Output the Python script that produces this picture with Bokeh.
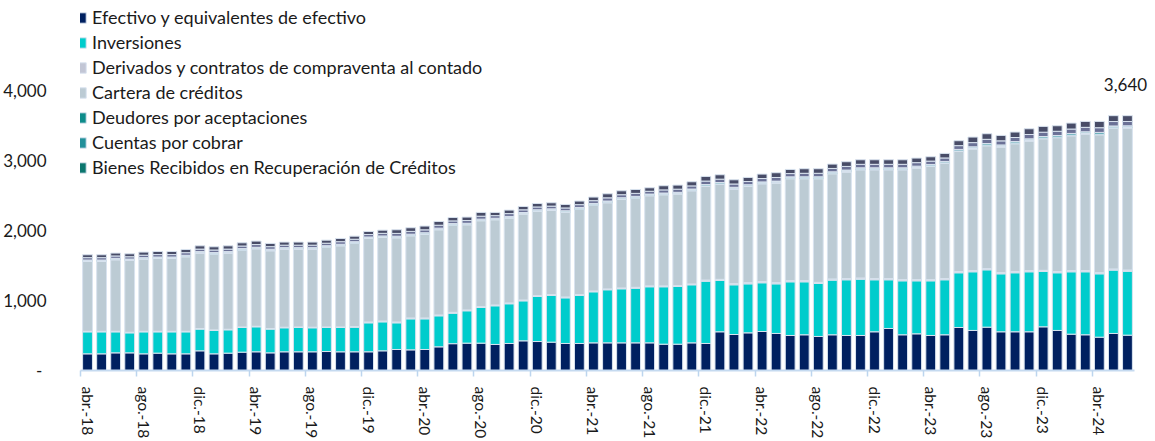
from bokeh.plotting import figure
from bokeh.models import (ColumnDataSource, Range1d, FixedTicker, Legend, LegendItem,
                          Label, NumeralTickFormatter)
from bokeh.embed import file_html
from bokeh.resources import INLINE

MESES = ["ene.", "feb.", "mar.", "abr.", "may.", "jun.", "jul.", "ago.", "sep.", "oct.", "nov.", "dic."]
N_MESES = 75
categorias = []
for k in range(N_MESES):
    mm = (3 + k) % 12
    yy = 18 + (3 + k) // 12
    categorias.append(f"{MESES[mm]}-{yy}")

efectivo = [238, 238, 252, 252, 238, 248, 238, 238, 281, 238,
            248, 262, 267, 252, 267, 267, 267, 271, 267, 267,
            267, 281, 300, 295, 300, 338, 383, 391, 391, 372,
            386, 424, 414, 405, 386, 386, 395, 395, 395, 395,
            395, 376, 376, 395, 386, 553, 514, 538, 557, 529,
            500, 510, 486, 510, 500, 500, 553, 600, 510, 524,
            500, 510, 614, 572, 619, 553, 553, 553, 624, 572,
            519, 510, 476, 529, 505]
inversiones = [314, 314, 300, 286, 314, 304, 314, 314, 310, 334,
               333, 352, 357, 339, 343, 347, 343, 343, 347, 352,
               414, 414, 381, 443, 438, 443, 436, 462, 509, 552,
               567, 571, 643, 667, 652, 686, 729, 758, 772, 781,
               801, 820, 824, 829, 890, 733, 710, 700, 696, 709,
               767, 757, 757, 781, 796, 805, 743, 696, 771, 757,
               781, 786, 782, 838, 819, 828, 843, 857, 791, 824,
               891, 900, 905, 905, 914]
derivados = [8, 8, 8, 8, 8, 8, 8, 8, 8, 8,
             8, 8, 8, 8, 8, 8, 8, 8, 8, 8,
             12, 12, 12, 12, 12, 12, 12, 12, 12, 12,
             12, 12, 12, 12, 12, 12, 12, 12, 12, 12,
             12, 12, 12, 12, 16, 16, 16, 16, 16, 16,
             16, 16, 16, 16, 16, 16, 16, 16, 16, 16,
             16, 16, 16, 16, 16, 16, 16, 16, 16, 16,
             16, 16, 16, 16, 16]
cartera = [997, 997, 1021, 1026, 1031, 1040, 1040, 1064, 1078, 1082,
           1088, 1097, 1106, 1111, 1116, 1112, 1116, 1140, 1159, 1192,
           1193, 1193, 1202, 1174, 1195, 1217, 1245, 1216, 1227, 1217,
           1212, 1227, 1203, 1202, 1208, 1221, 1226, 1231, 1264, 1274,
           1288, 1302, 1308, 1331, 1337, 1356, 1351, 1375, 1398, 1423,
           1456, 1456, 1480, 1503, 1522, 1546, 1555, 1555, 1570, 1594,
           1618, 1646, 1717, 1737, 1756, 1794, 1827, 1851, 1879, 1913,
           1927, 1951, 1970, 2010, 2028]
deudores = [6, 6, 6, 6, 6, 6, 6, 6, 6, 6,
            6, 6, 6, 6, 6, 6, 6, 6, 6, 6,
            6, 6, 6, 6, 6, 6, 6, 6, 6, 6,
            7, 7, 7, 7, 7, 7, 7, 7, 7, 7,
            7, 7, 7, 7, 7, 7, 7, 7, 7, 7,
            8, 8, 8, 8, 8, 8, 8, 8, 8, 8,
            8, 8, 8, 8, 8, 8, 8, 8, 8, 8,
            8, 8, 8, 8, 8]
cuentas = [12, 12, 12, 11, 12, 12, 12, 13, 12, 13,
           12, 13, 13, 13, 12, 12, 12, 12, 13, 12,
           12, 13, 14, 14, 14, 14, 13, 13, 14, 13,
           14, 13, 14, 13, 14, 14, 14, 15, 15, 15,
           14, 15, 15, 15, 17, 17, 16, 15, 17, 18,
           16, 17, 17, 17, 18, 17, 17, 17, 17, 17,
           17, 17, 18, 21, 21, 20, 20, 21, 21, 21,
           22, 22, 23, 22, 21]
bienes = [3, 3, 3, 3, 3, 3, 3, 3, 3, 3,
          3, 3, 3, 3, 3, 3, 3, 3, 3, 3,
          3, 3, 3, 3, 3, 3, 3, 3, 3, 3,
          3, 3, 3, 3, 3, 3, 3, 3, 3, 3,
          3, 3, 3, 3, 3, 3, 3, 3, 3, 3,
          3, 3, 3, 3, 3, 3, 3, 3, 3, 3,
          3, 3, 3, 3, 3, 3, 3, 3, 3, 3,
          3, 3, 3, 3, 3]
otros_a = [34, 34, 34, 33, 35, 35, 35, 37, 36, 37,
           36, 37, 39, 37, 35, 35, 35, 35, 37, 35,
           35, 37, 40, 40, 41, 42, 39, 39, 42, 37,
           40, 38, 40, 39, 40, 40, 40, 45, 43, 43,
           40, 45, 45, 45, 50, 48, 47, 45, 48, 52,
           47, 50, 50, 48, 52, 50, 50, 50, 50, 50,
           48, 50, 54, 60, 60, 58, 58, 62, 62, 60,
           63, 63, 67, 63, 62]
otros_b = [41, 41, 41, 42, 44, 44, 44, 46, 47, 46,
           47, 46, 49, 46, 44, 44, 44, 44, 46, 44,
           44, 46, 52, 52, 54, 54, 49, 49, 54, 46,
           50, 48, 50, 48, 50, 51, 51, 58, 56, 56,
           50, 59, 58, 59, 66, 63, 60, 59, 63, 68,
           59, 65, 65, 62, 67, 65, 65, 65, 65, 65,
           62, 65, 70, 79, 80, 78, 78, 82, 83, 79,
           85, 85, 90, 84, 83]

series = ["efectivo", "inversiones", "derivados", "cartera", "deudores",
          "cuentas", "bienes", "otros_a", "otros_b"]
nombres = ["Efectivo y equivalentes de efectivo", "Inversiones",
           "Derivados y contratos de compraventa al contado", "Cartera de créditos",
           "Deudores por aceptaciones", "Cuentas por cobrar",
           "Bienes Recibidos en Recuperación de Créditos"]
colores = ["#002060", "#00CCCC", "#C2C6D5", "#BCCBD4", "#0E8C8A",
           "#22909A", "#0B766E", "#6B7196", "#484C67"]

etiquetas_eje = ["abr.-18", "ago.-18", "dic.-18", "abr.-19", "ago.-19", "dic.-19",
                 "abr.-20", "ago.-20", "dic.-20", "abr.-21", "ago.-21", "dic.-21",
                 "abr.-22", "ago.-22", "dic.-22", "abr.-23", "ago.-23", "dic.-23", "abr.-24"]

xs = list(range(N_MESES))
source = ColumnDataSource(dict(
    x=xs, efectivo=efectivo, inversiones=inversiones, derivados=derivados,
    cartera=cartera, deudores=deudores, cuentas=cuentas, bienes=bienes,
    otros_a=otros_a, otros_b=otros_b))

FONT = "Lato"
TXT = "#1a1a1a"

# frame: x from 80 to page edge (bars occupy 80..1134), y from 0 to 371
p = figure(width=1155, height=441, output_backend="svg", toolbar_location=None,
           x_range=Range1d(-0.5, N_MESES - 0.5 + 21 / 14.05), y_range=Range1d(0, 5285),
           min_border_left=80, min_border_right=0, min_border_top=0,
           min_border_bottom=70)
p.outline_line_color = None
p.background_fill_color = "white"
p.border_fill_color = "white"
p.xgrid.visible = False
p.ygrid.visible = False

renderers = p.vbar_stack(series, x="x", width=0.7, source=source, color=colores,
                         line_color="#D9E3EF", line_width=1)

# axes
tick_pos = [categorias.index(t) for t in etiquetas_eje]
p.xaxis.bounds = (-0.5, N_MESES - 0.5)
p.xaxis.ticker = FixedTicker(ticks=tick_pos, minor_ticks=[t - 0.5 for t in tick_pos])
p.xaxis.major_label_overrides = {t: categorias[t] for t in tick_pos}
p.xaxis.major_label_orientation = "vertical"
p.xaxis.major_tick_out = 0
p.xaxis.major_tick_in = 0
p.xaxis.minor_tick_out = 6
p.xaxis.minor_tick_in = 0
p.xaxis.minor_tick_line_color = "#BDD5EE"
p.xaxis.minor_tick_line_width = 1.5
p.xaxis.axis_line_color = "#C5DAF0"
p.xaxis.axis_line_width = 2
p.xaxis.major_label_standoff = 10
p.xaxis.major_label_text_font = FONT
p.xaxis.major_label_text_font_size = "15.5px"
p.xaxis.major_label_text_color = TXT

p.yaxis.ticker = FixedTicker(ticks=[0, 1000, 2000, 3000, 4000])
p.yaxis.formatter = NumeralTickFormatter(format="0,0")
p.yaxis.major_label_overrides = {0: "-\u2009\u2009"}
p.yaxis.axis_line_color = None
p.yaxis.major_tick_line_color = None
p.yaxis.minor_tick_line_color = None
p.yaxis.major_label_standoff = 28
p.yaxis.major_label_text_font = FONT
p.yaxis.major_label_text_font_size = "17px"
p.yaxis.major_label_text_color = TXT

legend = Legend(items=[LegendItem(label=n, renderers=[r]) for n, r in zip(nombres, renderers[:7])],
                location=(-6, 192), padding=0, margin=0, spacing=3,
                glyph_width=13, glyph_height=13, label_standoff=5, label_height=21,
                label_text_font=FONT, label_text_font_size="18px", label_text_color=TXT,
                background_fill_alpha=0, border_line_alpha=0)
p.add_layout(legend)

total_final = sum(s[-1] for s in [efectivo, inversiones, derivados, cartera, deudores,
                                  cuentas, bienes, otros_a, otros_b])
p.add_layout(Label(x=N_MESES - 1, y=total_final, text=f"{total_final:,}", y_offset=31,
                   x_offset=-2, text_align="center", text_baseline="middle", text_font=FONT,
                   text_font_size="17px", text_color=TXT))

open("out.html", "w").write(file_html(p, INLINE))
